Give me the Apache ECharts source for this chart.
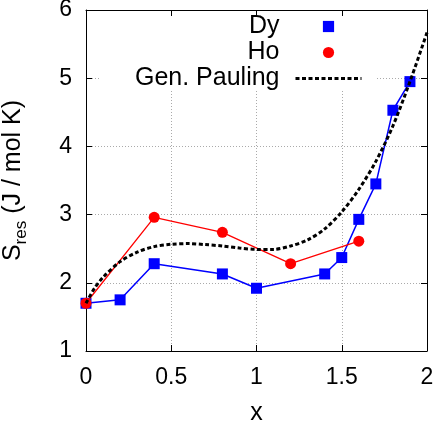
<!DOCTYPE html>
<html>
<head>
<meta charset="utf-8">
<script src="https://cdn.jsdelivr.net/npm/echarts@6/dist/echarts.min.js"></script>
<style>
  html, body { margin: 0; padding: 0; background: #fff; }
  #chart { width: 437px; height: 422px; }
</style>
</head>
<body>
<div id="chart"></div>
<script>
// values
const xDy = [0, 0.2, 0.4, 0.8, 1.0, 1.4, 1.5, 1.6, 1.7, 1.8, 1.9];
const sDy = [1.70, 1.75, 2.28, 2.13, 1.92, 2.13, 2.37, 2.93, 3.45, 4.53, 4.95];

const xHo = [0, 0.4, 0.8, 1.2, 1.6];
const sHo = [1.70, 2.96, 2.74, 2.28, 2.61];

const xPauling = [0, 0.05, 0.1, 0.2, 0.3, 0.4, 0.5, 0.6, 0.7, 0.8, 0.9, 1.0, 1.1, 1.2, 1.3, 1.4, 1.5, 1.6, 1.7, 1.8, 1.9, 2.0];
const sPauling = [1.70, 1.92, 2.08, 2.31, 2.45, 2.53, 2.565, 2.575, 2.56, 2.54, 2.51, 2.49, 2.49, 2.54, 2.63, 2.79, 3.04, 3.37, 3.78, 4.30, 4.95, 5.67];

const seriesNames = ["Dy", "Ho", "Gen. Pauling"];

const FONT = "'Liberation Sans', Arial, sans-serif";

const zip = (xs, ys) => xs.map((x, i) => [x, ys[i]]);

const myChart = echarts.init(document.getElementById("chart"), null, { renderer: "canvas" });

// mirrored axes on top / right only carry the inward ticks and the frame
const frameAxis = {
  axisLine: { show: true, onZero: false, lineStyle: { color: "#000", width: 1 } },
  axisTick: { show: true, inside: true, length: 6, lineStyle: { color: "#000" } },
  axisLabel: { show: false },
  splitLine: { show: false },
};

const options = {
  animation: false,
  backgroundColor: "#fff",
  grid: { left: 86, right: 10, top: 10, bottom: 71, containLabel: false, outerBoundsMode: "none" },
  legend: {
    data: [
      { name: seriesNames[0], lineStyle: { opacity: 0 } },
      { name: seriesNames[1], lineStyle: { opacity: 0 } },
      { name: seriesNames[2], itemStyle: { opacity: 0 }, lineStyle: { width: 3 } },
    ],
    orient: "vertical",
    align: "right",
    right: 60,
    top: 10,
    padding: [4, 14, 0, 35],
    itemGap: 1,
    itemWidth: 66,
    itemHeight: 14,
    backgroundColor: "#fff",
    z: 1,
    textStyle: { fontFamily: FONT, fontSize: 25, color: "#000", padding: [0, 11, 0, 0] },
  },
  xAxis: [
    {
      type: "value",
      min: 0,
      max: 2,
      interval: 0.5,
      z: 0,
      axisLine: { show: true, onZero: false, lineStyle: { color: "#000", width: 1 } },
      axisTick: { show: true, inside: true, length: 6, lineStyle: { color: "#000" } },
      axisLabel: { fontFamily: FONT, fontSize: 23, color: "#000", margin: 15 },
      splitLine: { show: true, lineStyle: { color: "#aaa", type: [1, 2], width: 1 } },
      name: "x",
      nameLocation: "middle",
      nameGap: 50,
      nameTextStyle: { fontFamily: FONT, fontSize: 25, color: "#000" },
    },
    Object.assign({ type: "value", position: "top", min: 0, max: 2, interval: 0.5, z: 3 }, frameAxis),
  ],
  yAxis: [
    {
      type: "value",
      min: 1,
      max: 6,
      interval: 1,
      z: 0,
      axisLine: { show: true, onZero: false, lineStyle: { color: "#000", width: 1 } },
      axisTick: { show: true, inside: true, length: 6, lineStyle: { color: "#000" } },
      axisLabel: { fontFamily: FONT, fontSize: 23, color: "#000", margin: 14 },
      splitLine: { show: true, lineStyle: { color: "#aaa", type: [1, 2], width: 1 } },
      name: "{m|S}{s|res}{m| (J / mol K)}",
      nameLocation: "middle",
      nameGap: 56,
      nameTextStyle: {
        rich: {
          m: { fontFamily: FONT, fontSize: 25, color: "#000", verticalAlign: "top" },
          s: { fontFamily: FONT, fontSize: 17, color: "#000", verticalAlign: "top", padding: [12, 0, 0, 0] },
        },
      },
    },
    Object.assign({ type: "value", position: "right", min: 1, max: 6, interval: 1, z: 3 }, frameAxis),
  ],
  series: [
    {
      name: seriesNames[0],
      type: "line",
      data: zip(xDy, sDy),
      symbol: "rect",
      symbolSize: 11,
      itemStyle: { color: "#0000ff" },
      lineStyle: { color: "#0000ff", width: 1.5 },
      z: 2,
    },
    {
      name: seriesNames[1],
      type: "line",
      data: zip(xHo, sHo),
      symbol: "circle",
      symbolSize: 11,
      itemStyle: { color: "#ff0000" },
      lineStyle: { color: "#ff0000", width: 1.3 },
      z: 3,
    },
    {
      name: seriesNames[2],
      type: "line",
      data: zip(xPauling, sPauling),
      smooth: 0.3,
      showSymbol: false,
      itemStyle: { color: "#000" },
      lineStyle: { color: "#000", width: 3, type: [4, 2.5] },
      z: 4,
    },
  ],
};

myChart.setOption(options);
</script>
</body>
</html>
